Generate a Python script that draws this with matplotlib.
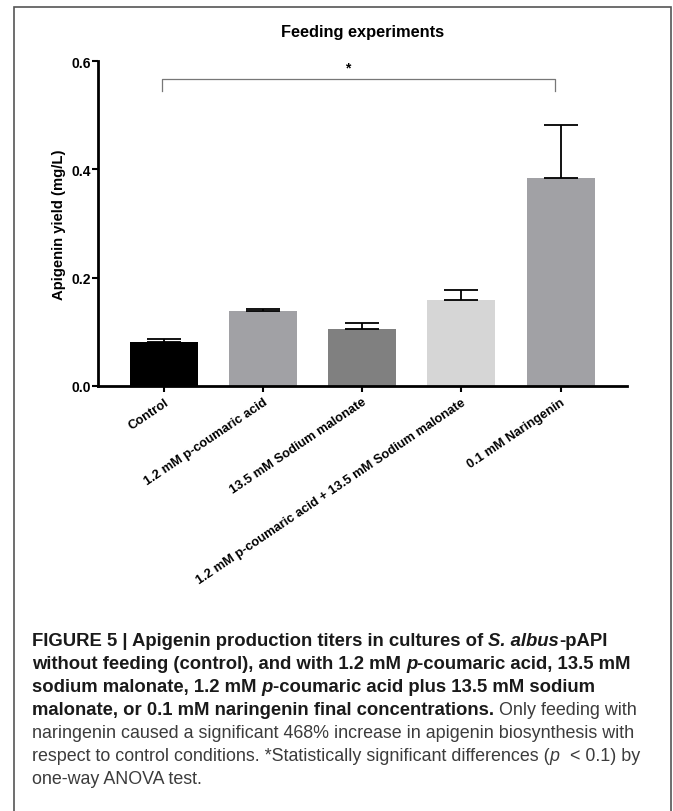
import matplotlib
matplotlib.use("Agg")
import matplotlib.pyplot as plt
from matplotlib.patches import Rectangle
import numpy as np

# data
categories = ["Control", "1.2 mM p-coumaric acid", "13.5 mM Sodium malonate",
              "1.2 mM p-coumaric acid + 13.5 mM Sodium malonate", "0.1 mM Naringenin"]
yields = [0.081, 0.139, 0.105, 0.159, 0.384]
errors = [0.006, 0.004, 0.011, 0.018, 0.098]
bar_colors = ["#000000", "#a1a1a5", "#808080", "#d6d6d6", "#a1a1a5"]
yticks = [0.0, 0.2, 0.4, 0.6]

W, H = 673, 812
fig = plt.figure(figsize=(W / 100, H / 100), dpi=100)
plt.rcParams['font.family'] = ['Liberation Sans', 'DejaVu Sans']

# outer frame of the figure panel (runs off the bottom)
fig.patches.append(Rectangle((14 / W, -0.05), (671 - 14) / W, 1.05 - 8 / H,
                             transform=fig.transFigure, fill=False,
                             ec="#555555", lw=1.2))

ax = fig.add_axes([98 / W, 1 - 387 / H, (627 - 98) / W, (387 - 62) / H])
x = np.arange(len(categories))
ax.bar(x, yields, width=0.685, color=bar_colors, edgecolor="none", zorder=2)
ax.errorbar(x, yields, yerr=[np.zeros(len(errors)), errors], fmt="none",
            ecolor="black", elinewidth=1.3, capsize=12, capthick=1.3, zorder=3)

ax.set_xlim(-0.665, 4.67)
ax.set_ylim(0, 0.6)
ax.set_yticks(yticks)
ax.set_yticklabels([f"{v:.1f}" for v in yticks], fontsize=10, fontweight="bold")
ax.set_xticks(x)
ax.set_xticklabels(categories, rotation=34, ha="right", rotation_mode="anchor",
                   fontsize=9.3, fontweight="bold")
ax.tick_params(axis="y", length=4, width=1.5, pad=1)
ax.tick_params(axis="x", length=4, width=1.5, pad=3)
for s in ["top", "right"]:
    ax.spines[s].set_visible(False)
for s in ["left", "bottom"]:
    ax.spines[s].set_linewidth(2)

ax.set_ylabel("Apigenin yield (mg/L)", fontsize=10.7, fontweight="bold")
ax.yaxis.set_label_coords(-0.060, 0.5)
fig.text(362.5 / W, 1 - 33 / H, "Feeding experiments", fontsize=11.8,
         fontweight="bold", ha="center", va="center")

# significance bracket
ax.plot([-0.02, -0.02, 3.94, 3.94], [0.545, 0.567, 0.567, 0.545],
        color="#777777", lw=0.9, clip_on=False)
ax.text(1.85, 0.575, "*", ha="center", va="bottom", fontsize=10, fontweight="bold")

# caption, laid out piece by piece
caption = [
    [("FIGURE 5 | Apigenin production titers in cultures of ", "bold", "normal"),
     ("S. albus", "bold", "italic"), ("-pAPI", "bold", "normal")],
    [("without feeding (control), and with 1.2 mM ", "bold", "normal"),
     ("p", "bold", "italic"), ("-coumaric acid, 13.5 mM", "bold", "normal")],
    [("sodium malonate, 1.2 mM ", "bold", "normal"), ("p", "bold", "italic"),
     ("-coumaric acid plus 13.5 mM sodium", "bold", "normal")],
    [("malonate, or 0.1 mM naringenin final concentrations.", "bold", "normal"),
     (" Only feeding with", "normal", "normal")],
    [("naringenin caused a significant 468% increase in apigenin biosynthesis with", "normal", "normal")],
    [("respect to control conditions. *Statistically significant differences (", "normal", "normal"),
     ("p", "normal", "italic"), ("  < 0.1) by", "normal", "normal")],
    [("one-way ANOVA test.", "normal", "normal")],
]
line_y = [642, 665, 688, 711, 734, 757, 780]

fig.canvas.draw()
renderer = fig.canvas.get_renderer()
for segs, yy in zip(caption, line_y):
    xx = 32
    for s, weight, style in segs:
        if weight == "bold":
            col, size = "#1a1a1a", 13.3
        else:
            col, size = "#3c3c3c", 12.9
        t = fig.text(xx / W, 1 - yy / H, s, fontsize=size, fontweight=weight,
                     fontstyle=style, color=col, va="center", ha="left")
        bb = t.get_window_extent(renderer)
        xx += bb.width

fig.savefig("out.png", dpi=100)
